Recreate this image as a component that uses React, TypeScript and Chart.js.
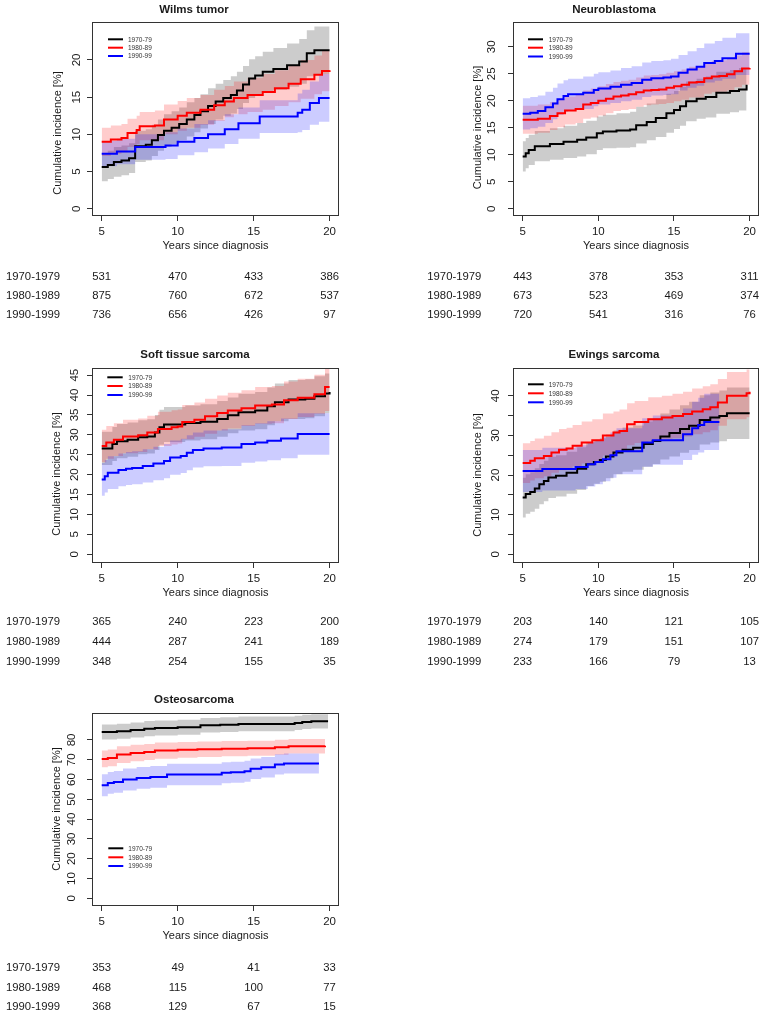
import React, { useEffect, useRef } from "react";
import { Chart, registerables } from "chart.js";
Chart.register(...registerables);

const FONT = '"Liberation Sans", Arial, Helvetica, sans-serif';
const TEXT = "#1a1a1a";
const AXIS = "#333333";

const periodLabels = ["1970-79", "1980-89", "1990-99"];
const riskRowLabels = ["1970-1979", "1980-1989", "1990-1999"];
const xTickValues = [5, 10, 15, 20];
const xTitle = "Years since diagnosis";
const yTitle = "Cumulative incidence [%]";
const lineColors = ["#000000", "#ff0000", "#0000ff"];
const bandColors = ["rgba(0,0,0,0.2)", "rgba(255,0,0,0.2)", "rgba(0,0,255,0.2)"];

// ---------- Wilms tumor ----------
const wilms70T = [5.0, 5.4, 5.8, 6.3, 6.8, 7.2, 7.9, 8.3, 8.7, 9.1, 9.6, 10.1, 10.6, 11.1, 11.5, 12.0, 12.5, 13.0, 13.5, 13.9, 14.3, 14.7, 15.1, 15.6, 16.3, 17.2, 18.0, 18.5, 19.0, 20.0];
const wilms70Est = [5.6, 5.9, 6.3, 6.5, 6.8, 8.4, 8.6, 9.2, 9.9, 10.5, 10.9, 11.4, 12.0, 12.6, 13.1, 13.8, 14.4, 14.9, 15.3, 15.9, 16.7, 17.5, 17.9, 18.4, 18.8, 19.3, 19.8, 20.9, 21.3, 21.3];
const wilms70Lo = [3.7, 4.0, 4.3, 4.5, 4.8, 6.3, 6.5, 7.1, 7.8, 8.3, 8.7, 9.2, 9.7, 10.3, 10.8, 11.4, 12.0, 12.5, 12.8, 13.4, 14.2, 14.9, 15.3, 15.7, 16.0, 16.4, 16.8, 17.8, 18.1, 18.1];
const wilms70Hi = [7.5, 7.8, 8.3, 8.5, 8.8, 10.5, 10.7, 11.3, 12.0, 12.7, 13.1, 13.6, 14.3, 14.9, 15.4, 16.2, 16.8, 17.3, 17.8, 18.4, 19.2, 20.1, 20.5, 21.1, 21.6, 22.2, 22.8, 24.0, 24.5, 24.5];

const wilms80T = [5.0, 5.6, 6.3, 6.7, 7.3, 7.5, 8.5, 9.1, 10.0, 10.6, 11.5, 12.4, 13.1, 13.7, 14.6, 15.6, 16.4, 17.3, 18.1, 19.0, 19.5, 20.0];
const wilms80Est = [9.0, 9.3, 9.5, 10.2, 10.6, 11.1, 11.2, 12.0, 12.5, 12.9, 13.3, 13.9, 14.4, 14.9, 15.3, 15.7, 16.2, 16.8, 17.4, 18.0, 18.5, 18.6];
const wilms80Lo = [7.1, 7.4, 7.6, 8.3, 8.7, 9.2, 9.2, 10.0, 10.5, 10.9, 11.3, 11.8, 12.3, 12.7, 13.0, 13.3, 13.8, 14.3, 14.8, 15.4, 15.8, 15.9];
const wilms80Hi = [10.9, 11.2, 11.4, 12.1, 12.5, 13.0, 13.2, 14.0, 14.5, 14.9, 15.3, 16.0, 16.5, 17.1, 17.6, 18.1, 18.6, 19.3, 20.0, 20.6, 21.2, 21.3];

const wilms90T = [5.0, 6.0, 7.2, 9.2, 10.0, 11.1, 12.0, 13.1, 14.0, 15.4, 17.9, 18.2, 18.7, 19.3, 20.0];
const wilms90Est = [7.4, 7.7, 8.3, 8.5, 9.0, 9.5, 10.0, 10.7, 11.5, 12.4, 12.9, 13.3, 14.2, 14.9, 14.9];
const wilms90Lo = [5.7, 6.0, 6.6, 6.7, 7.2, 7.6, 8.1, 8.7, 9.4, 10.2, 10.3, 10.6, 11.3, 11.7, 11.7];
const wilms90Hi = [9.1, 9.4, 10.0, 10.3, 10.8, 11.4, 11.9, 12.7, 13.6, 14.6, 15.5, 16.0, 17.1, 18.1, 18.2];

const wilmsRisk70 = [531, 470, 433, 386];
const wilmsRisk80 = [875, 760, 672, 537];
const wilmsRisk90 = [736, 656, 426, 97];
const wilmsYTicks = [0, 5, 10, 15, 20];

// ---------- Neuroblastoma ----------
const neuro70T = [5.0, 5.2, 5.4, 5.8, 6.8, 7.7, 8.6, 9.2, 9.9, 10.3, 11.2, 12.1, 12.5, 13.2, 13.8, 14.5, 15.0, 15.4, 15.8, 16.5, 17.1, 17.8, 18.7, 19.3, 19.8];
const neuro70Est = [9.7, 10.3, 10.9, 11.6, 12.0, 12.4, 12.8, 13.2, 14.0, 14.3, 14.5, 14.7, 15.5, 16.1, 16.8, 17.7, 18.3, 19.0, 19.9, 20.4, 20.7, 21.5, 21.8, 22.1, 23.0];
const neuro70Lo = [6.9, 7.5, 8.1, 8.8, 9.1, 9.4, 9.7, 10.1, 10.9, 11.2, 11.3, 11.4, 12.1, 12.7, 13.3, 14.1, 14.8, 15.4, 16.2, 16.7, 16.9, 17.6, 17.9, 18.2, 19.0];
const neuro70Hi = [12.5, 13.1, 13.7, 14.4, 14.9, 15.4, 15.9, 16.3, 17.1, 17.4, 17.7, 18.0, 18.9, 19.5, 20.3, 21.3, 21.8, 22.6, 23.6, 24.1, 24.5, 25.4, 25.7, 26.1, 27.0];

const neuro80T = [5.0, 6.0, 6.8, 7.3, 7.8, 8.5, 9.0, 9.5, 10.0, 10.5, 11.0, 11.5, 12.0, 12.5, 13.0, 13.5, 14.0, 14.5, 15.0, 15.5, 16.0, 16.5, 17.0, 17.5, 18.0, 18.5, 19.0, 19.5, 20.0];
const neuro80Est = [16.5, 16.7, 17.2, 17.7, 18.2, 18.5, 19.3, 19.6, 20.0, 20.4, 20.8, 21.0, 21.2, 21.6, 21.9, 22.0, 22.1, 22.4, 22.7, 23.0, 23.4, 23.5, 24.2, 24.5, 24.6, 24.9, 25.5, 26.0, 26.1];
const neuro80Lo = [13.9, 14.1, 14.6, 15.1, 15.6, 15.9, 16.7, 16.9, 17.3, 17.7, 18.1, 18.3, 18.5, 18.9, 19.2, 19.3, 19.4, 19.6, 19.9, 20.2, 20.6, 20.6, 21.3, 21.6, 21.7, 21.9, 22.5, 23.0, 23.1];
const neuro80Hi = [19.1, 19.3, 19.8, 20.3, 20.8, 21.1, 21.9, 22.3, 22.7, 23.1, 23.5, 23.7, 23.9, 24.3, 24.7, 24.8, 24.9, 25.2, 25.5, 25.8, 26.3, 26.4, 27.1, 27.4, 27.5, 27.8, 28.4, 29.0, 29.1];

const neuro90T = [5.0, 5.5, 6.0, 6.5, 7.0, 7.3, 7.7, 8.0, 9.0, 9.7, 10.0, 10.8, 11.5, 12.2, 12.9, 13.5, 14.3, 14.8, 15.3, 15.9, 16.5, 17.0, 17.7, 18.2, 19.1, 20.0];
const neuro90Est = [17.6, 17.8, 18.1, 18.8, 19.5, 20.3, 20.9, 21.2, 21.5, 22.0, 22.3, 22.6, 23.0, 23.3, 23.9, 24.2, 24.3, 24.5, 25.2, 25.8, 26.3, 27.0, 27.4, 27.9, 28.7, 28.7];
const neuro90Lo = [14.7, 14.9, 15.2, 15.9, 16.6, 17.4, 18.0, 18.3, 18.5, 19.0, 19.3, 19.6, 19.9, 20.2, 20.7, 21.0, 21.1, 21.2, 21.9, 22.4, 22.8, 23.4, 23.7, 24.1, 24.8, 24.9];
const neuro90Hi = [20.5, 20.7, 21.0, 21.7, 22.4, 23.2, 23.8, 24.1, 24.5, 25.0, 25.3, 25.6, 26.1, 26.4, 27.1, 27.4, 27.5, 27.8, 28.5, 29.2, 29.8, 30.6, 31.1, 31.7, 32.5, 32.5];

const neuroRisk70 = [443, 378, 353, 311];
const neuroRisk80 = [673, 523, 469, 374];
const neuroRisk90 = [720, 541, 316, 76];
const neuroYTicks = [0, 5, 10, 15, 20, 25, 30];

// ---------- Soft tissue sarcoma ----------
const soft70T = [5.0, 5.7, 6.0, 6.7, 7.4, 8.0, 8.5, 8.8, 9.1, 10.5, 11.5, 12.6, 13.3, 14.0, 15.1, 15.9, 16.4, 17.3, 18.4, 19.0, 19.7, 20.0];
const soft70Est = [26.6, 27.7, 28.4, 28.8, 29.4, 29.6, 30.6, 31.9, 32.6, 33.0, 33.3, 34.0, 34.9, 35.7, 36.1, 37.2, 38.2, 38.9, 39.1, 39.7, 40.4, 40.8];
const soft70Lo = [22.4, 23.4, 24.1, 24.5, 25.1, 25.3, 26.2, 27.5, 28.2, 28.6, 28.9, 29.5, 30.4, 31.1, 31.4, 32.4, 33.4, 34.0, 34.2, 34.7, 35.4, 35.8];
const soft70Hi = [30.8, 32.0, 32.7, 33.1, 33.7, 33.9, 35.0, 36.3, 37.0, 37.4, 37.7, 38.5, 39.4, 40.3, 40.8, 41.9, 42.9, 43.8, 44.0, 44.7, 45.4, 45.8];

const soft80T = [5.0, 5.3, 5.8, 6.4, 7.4, 8.0, 8.7, 9.6, 10.0, 10.3, 11.1, 11.8, 12.6, 13.3, 14.2, 15.1, 16.2, 17.0, 17.9, 19.0, 19.7, 20.0];
const soft80Est = [27.2, 28.1, 28.8, 29.6, 29.9, 30.6, 31.5, 31.9, 32.1, 33.2, 33.8, 34.7, 35.5, 36.1, 36.7, 37.4, 37.6, 38.7, 39.3, 40.2, 42.0, 42.0];
const soft80Lo = [23.1, 24.0, 24.7, 25.4, 25.7, 26.4, 27.2, 27.6, 27.8, 28.9, 29.5, 30.3, 31.1, 31.6, 32.2, 32.8, 32.9, 34.0, 34.5, 35.3, 36.0, 36.0];
const soft80Hi = [31.3, 32.2, 32.9, 33.8, 34.1, 34.8, 35.8, 36.2, 36.4, 37.5, 38.1, 39.1, 39.9, 40.6, 41.2, 42.0, 42.3, 43.4, 44.1, 45.1, 48.0, 48.0];

const soft90T = [5.0, 5.2, 5.4, 6.1, 6.6, 7.0, 7.7, 8.4, 9.1, 9.5, 10.2, 10.6, 11.0, 11.7, 12.9, 14.2, 15.1, 15.9, 16.8, 17.9, 20.0];
const soft90Est = [18.8, 19.6, 20.5, 21.2, 21.5, 21.7, 22.2, 22.8, 23.4, 24.3, 24.7, 25.5, 26.2, 26.6, 26.8, 27.7, 28.1, 28.5, 29.1, 30.2, 30.2];
const soft90Lo = [14.7, 15.5, 16.4, 17.1, 17.4, 17.6, 18.0, 18.6, 19.1, 20.0, 20.4, 21.1, 21.8, 22.1, 22.2, 23.0, 23.3, 23.6, 24.1, 25.0, 25.0];
const soft90Hi = [22.9, 23.7, 24.6, 25.3, 25.7, 25.9, 26.4, 27.0, 27.7, 28.6, 29.0, 29.9, 30.6, 31.1, 31.4, 32.4, 32.9, 33.4, 34.1, 35.4, 35.4];

const softRisk70 = [365, 240, 223, 200];
const softRisk80 = [444, 287, 241, 189];
const softRisk90 = [348, 254, 155, 35];
const softYTicks = [0, 5, 10, 15, 20, 25, 30, 35, 40, 45];

// ---------- Ewings sarcoma ----------
const ewing70T = [5.0, 5.2, 5.5, 5.8, 6.1, 6.4, 6.7, 7.2, 7.9, 8.6, 9.2, 9.7, 10.1, 10.5, 11.0, 11.6, 12.3, 13.0, 13.6, 14.1, 14.7, 15.4, 16.0, 16.7, 17.4, 18.0, 18.5, 20.0];
const ewing70Est = [14.3, 15.2, 15.7, 16.6, 17.7, 18.5, 19.4, 19.8, 20.6, 21.6, 22.7, 23.3, 23.8, 24.7, 25.7, 26.4, 26.9, 27.8, 28.6, 29.7, 30.6, 31.6, 32.4, 33.9, 34.5, 34.9, 35.6, 35.6];
const ewing70Lo = [9.3, 10.2, 10.7, 11.5, 12.6, 13.4, 14.2, 14.6, 15.3, 16.2, 17.2, 17.8, 18.3, 19.2, 20.2, 20.8, 21.3, 22.1, 22.8, 23.9, 24.7, 25.6, 26.3, 27.7, 28.2, 28.5, 29.1, 29.1];
const ewing70Hi = [19.3, 20.2, 20.7, 21.7, 22.8, 23.6, 24.6, 25.0, 25.9, 27.0, 28.2, 28.8, 29.3, 30.2, 31.2, 32.0, 32.5, 33.5, 34.4, 35.5, 36.5, 37.6, 38.5, 40.1, 40.8, 41.3, 42.1, 42.1];

const ewing80T = [5.0, 5.5, 5.8, 6.4, 6.9, 7.4, 7.9, 8.3, 8.9, 9.6, 10.3, 11.0, 11.4, 11.9, 12.4, 13.3, 14.2, 14.9, 15.6, 16.2, 16.9, 17.4, 17.9, 18.5, 19.8, 20.0];
const ewing80Est = [23.0, 23.6, 24.2, 24.8, 25.7, 26.4, 26.7, 27.4, 28.2, 28.8, 30.0, 30.7, 31.1, 32.8, 33.4, 34.1, 34.5, 34.9, 35.4, 36.0, 36.6, 37.1, 38.3, 40.0, 40.6, 41.0];
const ewing80Lo = [18.0, 18.6, 19.2, 19.7, 20.6, 21.2, 21.5, 22.2, 22.9, 23.5, 24.9, 25.5, 25.9, 27.5, 28.1, 28.6, 29.0, 29.3, 29.7, 30.3, 30.8, 31.3, 32.4, 34.1, 34.6, 35.0];
const ewing80Hi = [28.0, 28.6, 29.2, 29.9, 30.8, 31.6, 31.9, 32.6, 33.5, 34.1, 35.5, 36.0, 36.5, 38.1, 38.7, 39.6, 40.0, 40.5, 41.0, 41.8, 42.4, 42.9, 44.2, 46.0, 46.6, 47.0];

const ewing90T = [5.0, 6.3, 8.5, 9.3, 9.8, 10.3, 10.8, 11.2, 12.9, 13.6, 15.6, 16.2, 16.6, 17.0, 18.0];
const ewing90Est = [21.0, 21.5, 22.0, 22.7, 23.3, 24.0, 25.0, 26.0, 28.2, 28.8, 30.3, 31.8, 32.6, 33.4, 33.4];
const ewing90Lo = [15.7, 16.1, 16.5, 17.1, 17.7, 18.4, 19.3, 20.2, 22.1, 22.6, 23.8, 25.1, 25.7, 26.3, 26.3];
const ewing90Hi = [26.3, 26.9, 27.5, 28.3, 28.9, 29.6, 30.7, 31.8, 34.3, 35.0, 36.8, 38.5, 39.5, 40.5, 40.7];

const ewingRisk70 = [203, 140, 121, 105];
const ewingRisk80 = [274, 179, 151, 107];
const ewingRisk90 = [233, 166, 79, 13];
const ewingYTicks = [0, 5, 10, 15, 20, 25, 30, 35, 40];
const ewingYLabels = ["0", "", "10", "", "20", "", "30", "", "40"];

// ---------- Osteosarcoma ----------
const osteo70T = [5.0, 6.0, 6.9, 7.8, 8.5, 10.0, 11.5, 12.8, 14.0, 17.7, 18.2, 18.8, 19.9];
const osteo70Est = [84.0, 84.4, 85.0, 85.7, 86.0, 86.4, 87.4, 87.7, 88.1, 88.6, 89.1, 89.4, 89.4];
const osteo70Lo = [80.2, 80.6, 81.2, 81.9, 82.2, 82.6, 83.7, 84.0, 84.4, 85.0, 85.5, 85.8, 85.8];
const osteo70Hi = [87.8, 88.2, 88.8, 89.5, 89.8, 90.2, 91.1, 91.4, 91.8, 92.2, 92.7, 93.0, 93.0];

const osteo80T = [5.0, 5.4, 6.0, 6.9, 7.8, 8.5, 10.0, 11.3, 12.9, 14.6, 16.4, 17.3, 19.7];
const osteo80Est = [70.4, 70.9, 72.6, 73.4, 73.9, 74.6, 75.0, 75.3, 75.6, 75.8, 76.3, 76.8, 77.1];
const osteo80Lo = [66.2, 66.7, 68.4, 69.2, 69.8, 70.5, 71.0, 71.4, 71.7, 72.0, 72.5, 73.1, 73.4];
const osteo80Hi = [74.6, 75.1, 76.8, 77.6, 78.0, 78.7, 79.0, 79.2, 79.5, 79.6, 80.1, 80.5, 80.8];

const osteo90T = [5.0, 5.4, 5.8, 6.4, 7.3, 8.2, 9.3, 12.9, 13.5, 14.4, 14.8, 15.5, 16.4, 17.0, 19.3];
const osteo90Est = [57.1, 58.3, 58.8, 60.0, 60.8, 61.3, 62.5, 63.4, 63.7, 64.2, 65.4, 66.2, 67.6, 68.1, 68.1];
const osteo90Lo = [51.6, 52.8, 53.3, 54.5, 55.3, 55.8, 57.1, 58.1, 58.4, 58.9, 60.2, 61.0, 62.5, 63.0, 63.0];
const osteo90Hi = [62.6, 63.8, 64.3, 65.5, 66.3, 66.8, 67.9, 68.7, 69.0, 69.5, 70.6, 71.4, 72.7, 73.2, 73.2];

const osteoRisk70 = [353, 49, 41, 33];
const osteoRisk80 = [468, 115, 100, 77];
const osteoRisk90 = [368, 129, 67, 15];
const osteoYTicks = [0, 10, 20, 30, 40, 50, 60, 70, 80];

type Series = { t: number[]; est: number[]; lo: number[]; hi: number[] };
type PanelCfg = {
  title: string;
  series: Series[];
  risk: number[][];
  yTicks: number[];
  yLabels: string[];
  yMin: number;
  yMax: number;
  box: { x: number; y: number; w: number; h: number };
  area: { l: number; r: number; t: number; b: number };
  titlePos: [number, number];
  yTitlePos: [number, number];
  yTickPad: number;
  legend: { x1: number; x2: number; tx: number; rows: number[] };
  table: { x: number; rows: number[] };
};

const X_MIN = 4.36;
const X_MAX = 20.62;
const X_SCALE_H = 40;

const panels: PanelCfg[] = [
  {
    title: "Wilms tumor",
    series: [
      { t: wilms70T, est: wilms70Est, lo: wilms70Lo, hi: wilms70Hi },
      { t: wilms80T, est: wilms80Est, lo: wilms80Lo, hi: wilms80Hi },
      { t: wilms90T, est: wilms90Est, lo: wilms90Lo, hi: wilms90Hi },
    ],
    risk: [wilmsRisk70, wilmsRisk80, wilmsRisk90],
    yTicks: wilmsYTicks,
    yLabels: wilmsYTicks.map(String),
    yMin: -0.97,
    yMax: 25.1,
    box: { x: 0, y: 0, w: 383, h: 332 },
    area: { l: 92, r: 339, t: 22, b: 216 },
    titlePos: [194, 9.5],
    yTitlePos: [58, 133],
    yTickPad: 4,
    legend: { x1: 108, x2: 123, tx: 128, rows: [39.3, 47.7, 56] },
    table: { x: 6, rows: [276.7, 296, 315] },
  },
  {
    title: "Neuroblastoma",
    series: [
      { t: neuro70T, est: neuro70Est, lo: neuro70Lo, hi: neuro70Hi },
      { t: neuro80T, est: neuro80Est, lo: neuro80Lo, hi: neuro80Hi },
      { t: neuro90T, est: neuro90Est, lo: neuro90Lo, hi: neuro90Hi },
    ],
    risk: [neuroRisk70, neuroRisk80, neuroRisk90],
    yTicks: neuroYTicks,
    yLabels: neuroYTicks.map(String),
    yMin: -1.33,
    yMax: 34.6,
    box: { x: 383, y: 0, w: 384, h: 332 },
    area: { l: 130, r: 376, t: 22, b: 216 },
    titlePos: [231, 9.5],
    yTitlePos: [95, 127.5],
    yTickPad: 9.5,
    legend: { x1: 145, x2: 160, tx: 165.7, rows: [39.3, 47.7, 56.5] },
    table: { x: 44.3, rows: [276.7, 296, 315] },
  },
  {
    title: "Soft tissue sarcoma",
    series: [
      { t: soft70T, est: soft70Est, lo: soft70Lo, hi: soft70Hi },
      { t: soft80T, est: soft80Est, lo: soft80Lo, hi: soft80Hi },
      { t: soft90T, est: soft90Est, lo: soft90Lo, hi: soft90Hi },
    ],
    risk: [softRisk70, softRisk80, softRisk90],
    yTicks: softYTicks,
    yLabels: softYTicks.map(String),
    yMin: -2.2,
    yMax: 46.8,
    box: { x: 0, y: 335, w: 383, h: 330 },
    area: { l: 92, r: 339, t: 33, b: 228 },
    titlePos: [195, 20],
    yTitlePos: [57, 139],
    yTickPad: 6,
    legend: { x1: 107.3, x2: 122.7, tx: 128.3, rows: [42.3, 51, 60] },
    table: { x: 6, rows: [287.3, 307.3, 326.7] },
  },
  {
    title: "Ewings sarcoma",
    series: [
      { t: ewing70T, est: ewing70Est, lo: ewing70Lo, hi: ewing70Hi },
      { t: ewing80T, est: ewing80Est, lo: ewing80Lo, hi: ewing80Hi },
      { t: ewing90T, est: ewing90Est, lo: ewing90Lo, hi: ewing90Hi },
    ],
    risk: [ewingRisk70, ewingRisk80, ewingRisk90],
    yTicks: ewingYTicks,
    yLabels: ewingYLabels,
    yMin: -2.2,
    yMax: 47.0,
    box: { x: 383, y: 335, w: 384, h: 330 },
    area: { l: 130, r: 376, t: 33, b: 228 },
    titlePos: [231, 20],
    yTitlePos: [95, 140],
    yTickPad: 6,
    legend: { x1: 145, x2: 160.7, tx: 165.7, rows: [49.3, 58.3, 67.3] },
    table: { x: 44.3, rows: [287.3, 307.3, 326.7] },
  },
  {
    title: "Osteosarcoma",
    series: [
      { t: osteo70T, est: osteo70Est, lo: osteo70Lo, hi: osteo70Hi },
      { t: osteo80T, est: osteo80Est, lo: osteo80Lo, hi: osteo80Hi },
      { t: osteo90T, est: osteo90Est, lo: osteo90Lo, hi: osteo90Hi },
    ],
    risk: [osteoRisk70, osteoRisk80, osteoRisk90],
    yTicks: osteoYTicks,
    yLabels: osteoYTicks.map(String),
    yMin: -3.9,
    yMax: 93.6,
    box: { x: 0, y: 665, w: 383, h: 350 },
    area: { l: 92, r: 339, t: 48, b: 241 },
    titlePos: [194, 35],
    yTitlePos: [57, 144],
    yTickPad: 9,
    legend: { x1: 108.3, x2: 123.3, tx: 128.3, rows: [183.3, 192.3, 201] },
    table: { x: 6, rows: [303.3, 322.7, 341.7] },
  },
];

function toPts(t: number[], v: number[]) {
  return t.map((x, k) => ({ x, y: v[k] }));
}

function makeDecor(p: PanelCfg) {
  return {
    id: "decor",
    afterDraw(chart: any) {
      const ctx = chart.ctx as CanvasRenderingContext2D;
      const a = chart.chartArea;
      ctx.save();
      // plot box
      ctx.strokeStyle = AXIS;
      ctx.lineWidth = 1;
      ctx.strokeRect(
        Math.round(a.left) + 0.5,
        Math.round(a.top) + 0.5,
        Math.round(a.right - a.left) - 1,
        Math.round(a.bottom - a.top) - 1
      );
      // main title
      ctx.fillStyle = TEXT;
      ctx.textAlign = "center";
      ctx.textBaseline = "middle";
      ctx.font = `bold 11.5px ${FONT}`;
      ctx.fillText(p.title, p.titlePos[0], p.titlePos[1]);
      // y axis title
      ctx.save();
      ctx.translate(p.yTitlePos[0], p.yTitlePos[1]);
      ctx.rotate(-Math.PI / 2);
      ctx.font = `11px ${FONT}`;
      ctx.fillText(yTitle, 0, 0);
      ctx.restore();
      // legend
      ctx.font = `6.5px ${FONT}`;
      ctx.textAlign = "left";
      p.legend.rows.forEach((ry, i) => {
        ctx.strokeStyle = lineColors[i];
        ctx.lineWidth = 2;
        ctx.beginPath();
        ctx.moveTo(p.legend.x1, ry);
        ctx.lineTo(p.legend.x2, ry);
        ctx.stroke();
        ctx.fillStyle = "#333";
        ctx.fillText(periodLabels[i], p.legend.tx, ry + 0.5);
      });
      // numbers at risk table
      const xs = chart.scales.x;
      ctx.fillStyle = TEXT;
      ctx.font = `11.3px ${FONT}`;
      p.risk.forEach((row, i) => {
        const y = p.table.rows[i];
        ctx.textAlign = "left";
        ctx.fillText(riskRowLabels[i], p.table.x, y);
        ctx.textAlign = "center";
        row.forEach((v, j) => {
          ctx.fillText(String(v), xs.getPixelForValue(xTickValues[j]), y);
        });
      });
      ctx.restore();
    },
  };
}

function Panel({ p }: { p: PanelCfg }) {
  const ref = useRef<HTMLCanvasElement | null>(null);
  useEffect(() => {
    if (!ref.current) return;
    const datasets: any[] = [];
    const bandOrder = [6, 5, 4];
    p.series.forEach((s, i) => {
      datasets.push({
        label: `lo-${i}`,
        data: toPts(s.t, s.lo),
        stepped: "before",
        borderWidth: 0,
        borderColor: "rgba(0,0,0,0)",
        pointRadius: 0,
        fill: false,
        order: bandOrder[i],
      });
      datasets.push({
        label: `hi-${i}`,
        data: toPts(s.t, s.hi),
        stepped: "before",
        borderWidth: 0,
        borderColor: "rgba(0,0,0,0)",
        backgroundColor: bandColors[i],
        pointRadius: 0,
        fill: "-1",
        order: bandOrder[i],
      });
    });
    const lineOrder = [0.3, 0.2, 0.1];
    p.series.forEach((s, i) => {
      datasets.push({
        label: periodLabels[i],
        data: toPts(s.t, s.est),
        stepped: "before",
        borderWidth: 2,
        borderColor: lineColors[i],
        pointRadius: 0,
        fill: false,
        order: lineOrder[i],
      });
    });

    const gridCfg = {
      drawOnChartArea: false,
      drawTicks: true,
      tickLength: 5,
      color: AXIS,
      lineWidth: 1,
    };

    const chart = new Chart(ref.current, {
      type: "line",
      data: { datasets },
      options: {
        animation: false,
        responsive: false,
        devicePixelRatio: 1,
        events: [],
        layout: {
          padding: {
            left: 0,
            right: p.box.w - p.area.r,
            top: p.area.t,
            bottom: p.box.h - p.area.b - X_SCALE_H,
          },
        },
        plugins: {
          legend: { display: false },
          title: { display: false },
          tooltip: { enabled: false },
        },
        scales: {
          x: {
            type: "linear",
            min: X_MIN,
            max: X_MAX,
            afterBuildTicks: (s: any) => {
              s.ticks = xTickValues.map((v) => ({ value: v }));
            },
            afterFit: (s: any) => {
              s.height = X_SCALE_H;
            },
            ticks: {
              autoSkip: false,
              maxRotation: 0,
              padding: 4,
              color: TEXT,
              font: { family: FONT, size: 11.5 },
              callback: (v: any) => String(v),
            },
            grid: gridCfg,
            border: { display: false },
            title: {
              display: true,
              text: xTitle,
              color: TEXT,
              font: { family: FONT, size: 11 },
              padding: { top: 0, bottom: 3.7 },
            },
          },
          y: {
            type: "linear",
            min: p.yMin,
            max: p.yMax,
            afterBuildTicks: (s: any) => {
              s.ticks = p.yTicks.map((v) => ({ value: v }));
            },
            afterFit: (s: any) => {
              s.width = p.area.l;
            },
            ticks: {
              autoSkip: false,
              minRotation: 90,
              maxRotation: 90,
              crossAlign: "center",
              padding: p.yTickPad,
              color: TEXT,
              font: { family: FONT, size: 11.5 },
              callback: (v: any, idx: number) => p.yLabels[idx] ?? String(v),
            },
            grid: gridCfg,
            border: { display: false },
          },
        },
      } as any,
      plugins: [makeDecor(p)],
    });
    return () => chart.destroy();
  }, [p]);

  return (
    <canvas
      ref={ref}
      width={p.box.w}
      height={p.box.h}
      style={{
        position: "absolute",
        left: p.box.x,
        top: p.box.y,
        width: p.box.w,
        height: p.box.h,
      }}
    />
  );
}

export default function App() {
  return (
    <div
      style={{
        position: "absolute",
        left: 0,
        top: 0,
        width: 767,
        height: 1015,
        background: "#ffffff",
        overflow: "hidden",
      }}
    >
      {panels.map((p) => (
        <Panel key={p.title} p={p} />
      ))}
    </div>
  );
}
